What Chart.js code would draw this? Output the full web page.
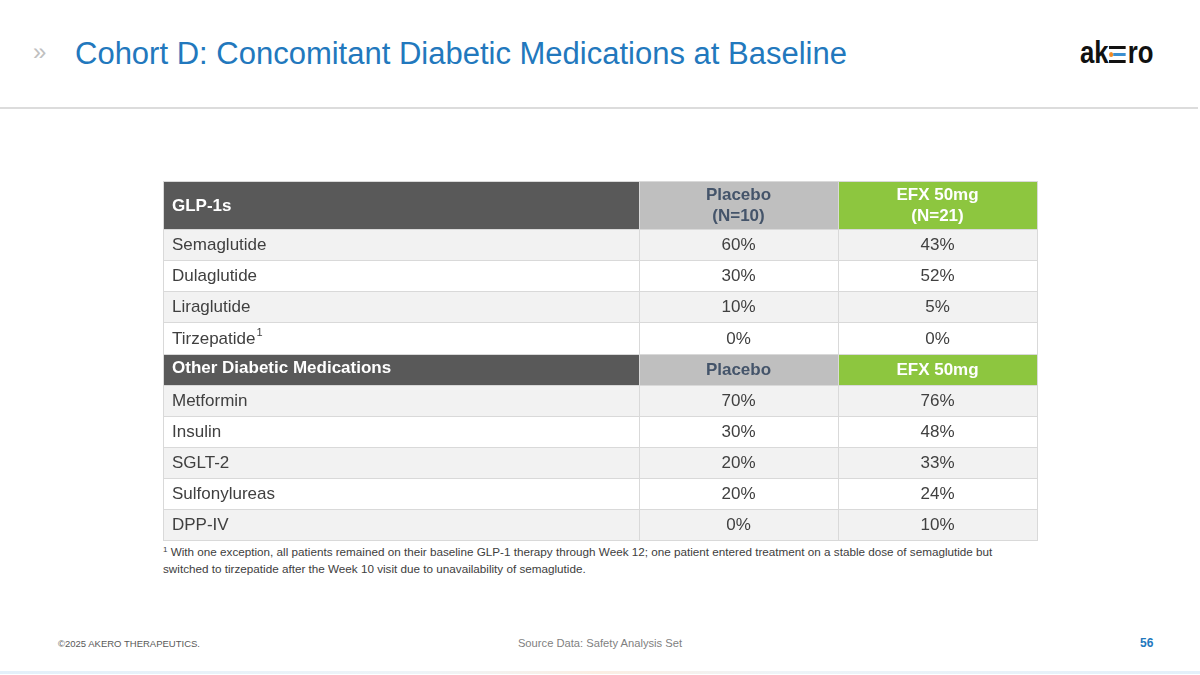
<!DOCTYPE html>
<html>
<head>
<meta charset="utf-8">
<script src="https://cdn.jsdelivr.net/npm/chart.js@4.4.0/dist/chart.umd.min.js"></script>
<style>
  html, body { margin: 0; padding: 0; background: #fff; }
  body { width: 1200px; height: 675px; position: relative; overflow: hidden; font-family: "Liberation Sans", Arial, sans-serif; }
  .chev { position: absolute; left: 33px; top: 38px; font-size: 24px; color: #c0c0c0; }
  .title { position: absolute; left: 75px; top: 36px; font-size: 31px; color: #2278bd; white-space: nowrap; line-height: 36px; }
  .rule { position: absolute; left: 0; top: 107px; width: 1198px; height: 2px; background: #dcdcdc; }
  .logo { position: absolute; left: 1080px; top: 36px; height: 34px; white-space: nowrap; transform: scaleX(0.83); transform-origin: left top;
          font: bold 31px "Liberation Sans", Arial, sans-serif; color: #111; line-height: 34px; }
  .logo .e { display: inline-block; position: relative; width: 20px; height: 17px; margin: 0 2px 0 1px; vertical-align: 0px; }
  .logo .e i { position: absolute; left: 0; width: 20px; height: 3.4px; background: #111; }
  .logo .e i.m { background: #3b8fd0; left: 5px; width: 15px; }
  .logo .e b { position: absolute; left: 0; top: 6px; width: 5px; height: 5px; border-radius: 50%; background: #f08a24; }
  #wrap { position: absolute; left: 162px; top: 180px; width: 876px; height: 361px; }
  .note { position: absolute; left: 163px; top: 543px; width: 900px; font: 11.7px "Liberation Sans", sans-serif; color: #404040; line-height: 17px; white-space: nowrap; }
  .note sup { font-size: 8px; vertical-align: 4px; line-height: 0; }
  .copy { position: absolute; left: 58px; top: 638px; font-size: 9.5px; color: #595959; }
  .src { position: absolute; left: 0; width: 1200px; top: 637px; text-align: center; font-size: 11.2px; color: #7f7f7f; }
  .page { position: absolute; left: 1140px; top: 636px; font-size: 12px; font-weight: bold; color: #2278bd; }
  .foot { position: absolute; left: 0; top: 671px; width: 1200px; height: 3px;
          background: linear-gradient(90deg, #e3f0fa 0%, #eef4f8 35%, #fbeee3 50%, #eef4f8 65%, #e3f0fa 100%); }
</style>
</head>
<body>
<div class="chev">&raquo;</div>
<div class="title">Cohort D: Concomitant Diabetic Medications at Baseline</div>
<div class="logo">ak<span class="e"><i style="top:0"></i><i class="m" style="top:6.8px"></i><b></b><i style="top:13.6px"></i></span>ro</div>
<div class="rule"></div>

<div id="wrap"><canvas id="table"></canvas></div>

<div class="note"><sup>1</sup> With one exception, all patients remained on their baseline GLP-1 therapy through Week 12; one patient entered treatment on a stable dose of semaglutide but<br>switched to tirzepatide after the Week 10 visit due to unavailability of semaglutide.</div>

<div class="copy">&copy;2025 AKERO THERAPEUTICS.</div>
<div class="src">Source Data: Safety Analysis Set</div>
<div class="page">56</div>
<div class="foot"></div>

<script>
// table data
const glpHeader = ['GLP-1s', 'Placebo\n(N=10)', 'EFX 50mg\n(N=21)'];
const glpDrugs = ['Semaglutide', 'Dulaglutide', 'Liraglutide', 'Tirzepatide'];
const glpMarks = ['', '', '', '1'];
const glpPlacebo = [60, 30, 10, 0];
const glpEfx = [43, 52, 5, 0];

const otherHeader = ['Other Diabetic Medications', 'Placebo', 'EFX 50mg'];
const otherDrugs = ['Metformin', 'Insulin', 'SGLT-2', 'Sulfonylureas', 'DPP-IV'];
const otherPlacebo = [70, 30, 20, 20, 0];
const otherEfx = [76, 48, 33, 24, 10];

// layout (in scale units)
const colWidths = [2.39, 1, 1];
const firstHeadHeight = 1.55;

const headFills = ['#595959', '#bfbfbf', '#8dc63f'];
const headText = ['#ffffff', '#44546a', '#ffffff'];

// build rows from the arrays
const rows = [];
function addGroup(header, drugs, marks, placebo, efx, headH) {
    rows.push({ head: true, cells: header, h: headH });
    drugs.forEach(function (d, i) {
        rows.push({
            head: false,
            cells: [d, placebo[i] + '%', efx[i] + '%'],
            mark: marks ? marks[i] : '',
            shade: i % 2 === 0,
            h: 1
        });
    });
}
addGroup(glpHeader, glpDrugs, glpMarks, glpPlacebo, glpEfx, firstHeadHeight);
addGroup(otherHeader, otherDrugs, null, otherPlacebo, otherEfx, 1);

let acc = 0;
rows.forEach(function (r) { r.top = acc; acc += r.h; });
const totalRows = acc;
const colLeft = [];
acc = 0;
colWidths.forEach(function (w) { colLeft.push(acc); acc += w; });
const totalCols = acc;

const tablePlugin = {
    id: 'tableCells',
    afterDraw: function (chart) {
        const ctx = chart.ctx;
        const x = chart.scales.x;
        const y = chart.scales.y;
        ctx.save();
        rows.forEach(function (r) {
            const y0 = Math.round(y.getPixelForValue(r.top));
            const y1 = Math.round(y.getPixelForValue(r.top + r.h));
            const yc = (y0 + y1) / 2;
            r.cells.forEach(function (txt, c) {
                const x0 = Math.round(x.getPixelForValue(colLeft[c]));
                const x1 = Math.round(x.getPixelForValue(colLeft[c] + colWidths[c]));
                ctx.fillStyle = r.head ? headFills[c] : (r.shade ? '#f2f2f2' : '#ffffff');
                ctx.fillRect(x0, y0, x1 - x0, y1 - y0);
                ctx.strokeStyle = '#d9d9d9';
                ctx.lineWidth = 1;
                ctx.strokeRect(x0 + 0.5, y0 + 0.5, x1 - x0, y1 - y0);

                ctx.textBaseline = 'middle';
                if (r.head) {
                    ctx.font = 'bold 17px "Liberation Sans", Arial, sans-serif';
                    ctx.fillStyle = headText[c];
                } else {
                    ctx.font = '17px "Liberation Sans", Arial, sans-serif';
                    ctx.fillStyle = '#404040';
                }
                const lines = String(txt).split('\n');
                lines.forEach(function (ln, k) {
                    const ly = yc + 1 + (k - (lines.length - 1) / 2) * 20.5;
                    if (c === 0) {
                        ctx.textAlign = 'left';
                        ctx.fillText(ln, x0 + 9, r.head && r.h === 1 ? ly - 2 : ly);
                        if (!r.head && r.mark) {
                            const w = ctx.measureText(ln).width;
                            ctx.font = '11px "Liberation Sans", Arial, sans-serif';
                            ctx.fillText(r.mark, x0 + 9 + w + 1, ly - 6);
                        }
                    } else {
                        ctx.textAlign = 'center';
                        ctx.fillText(ln, (x0 + x1) / 2, ly);
                    }
                });
            });
        });
        ctx.restore();
    }
};

new Chart(document.getElementById('table'), {
    type: 'scatter',
    data: { datasets: [] },
    options: {
        responsive: true,
        maintainAspectRatio: false,
        animation: false,
        layout: { padding: 1 },
        scales: {
            x: { type: 'linear', min: 0, max: totalCols, display: false },
            y: { type: 'linear', min: 0, max: totalRows, reverse: true, display: false }
        },
        plugins: { legend: { display: false }, tooltip: { enabled: false } }
    },
    plugins: [tablePlugin]
});
</script>
</body>
</html>
